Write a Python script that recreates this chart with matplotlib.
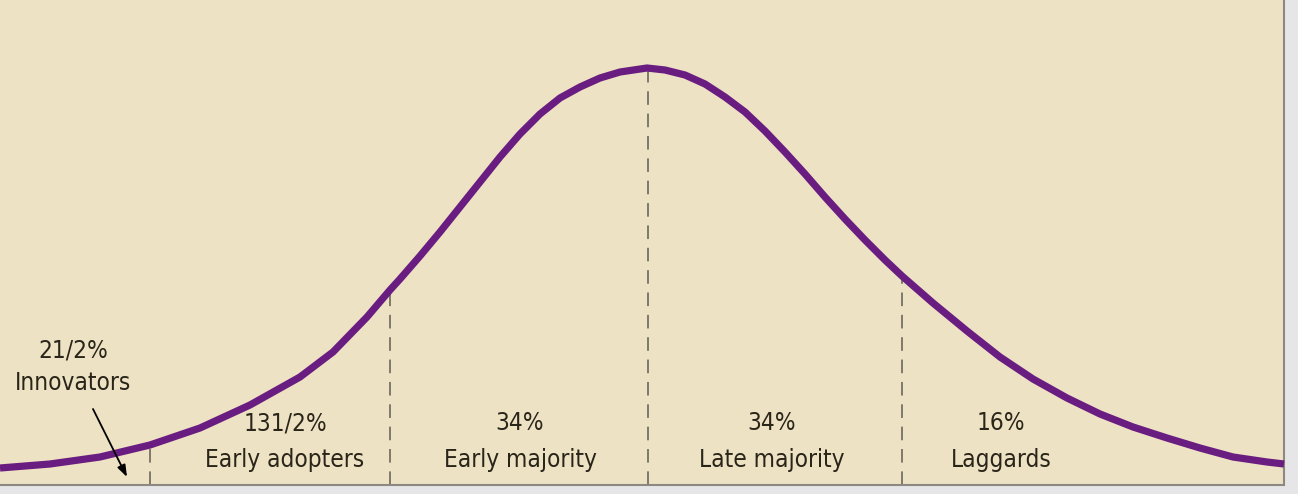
import numpy as np
import matplotlib
matplotlib.use("Agg")
import matplotlib.pyplot as plt

# Curve (x position, pixel row of the curve)
curve_x = [0, 50, 100, 150, 200, 250, 300, 333, 367, 390, 400, 420, 440, 460, 480,
           500, 520, 540, 560, 580, 600, 620, 647, 665, 685, 705, 725, 745, 765,
           785, 805, 825, 845, 865, 885, 902, 933, 967, 1000, 1033, 1067, 1100,
           1133, 1167, 1200, 1233, 1267, 1284]
curve_y = [468, 464, 457, 445, 428, 405, 377, 352, 317, 290, 279, 256, 232, 207, 182,
           157, 134, 114, 98, 87, 78, 72, 68, 70, 75, 84, 97, 112, 131,
           152, 174, 197, 219, 240, 260, 276, 303, 331, 357, 379, 398, 414,
           427, 438, 448, 457, 462, 464]
baseline = 485
curve_h = [baseline - v for v in curve_y]

# Segment boundaries
boundaries = [150, 390, 648, 902]

# Segment labels
pct_labels = ["131/2%", "34%", "34%", "16%"]
name_labels = ["Early adopters", "Early majority", "Late majority", "Laggards"]
label_x = [285, 520, 772, 1001]

innov_pct = "21/2%"
innov_name = "Innovators"

W, H = 1298, 494
fig = plt.figure(figsize=(W / 100, H / 100), dpi=100)
fig.patch.set_facecolor("#e6e6e8")
ax = fig.add_axes([0, (H - baseline) / H, 1284 / W, baseline / H])
ax.set_facecolor("#eee2c5")
ax.set_xlim(0, 1284)
ax.set_ylim(0, baseline)
for s in ["top", "left"]:
    ax.spines[s].set_visible(False)
for s in ["right", "bottom"]:
    ax.spines[s].set_color("#8c8a80")
    ax.spines[s].set_linewidth(1.5)
ax.set_xticks([])
ax.set_yticks([])

# dashed boundary lines
for bx in boundaries:
    top = np.interp(bx, curve_x, curve_h)
    ax.plot([bx, bx], [0, top], color="#7d796b", lw=1.4,
            dashes=(7, 4.5), zorder=2)

ax.plot(curve_x, curve_h, color="#6a1d80", lw=5.2, solid_capstyle="butt",
        solid_joinstyle="round", zorder=3, clip_on=False)

font = dict(family=["DejaVu Sans"], fontsize=17.5,
            color="#2a2519", stretch="condensed")

for lx, p, n in zip(label_x, pct_labels, name_labels):
    ax.text(lx, baseline - 423, p, ha="center", va="center", **font)
    ax.text(lx, baseline - 460, n, ha="center", va="center", **font)

ax.text(73, baseline - 350, innov_pct, ha="center", va="center", **font)
ax.text(73, baseline - 383, innov_name, ha="center", va="center", **font)

ax.annotate("", xy=(127, baseline - 477), xytext=(93, baseline - 409),
            arrowprops=dict(arrowstyle="-|>,head_length=0.7,head_width=0.25",
                            color="black", lw=1.3, shrinkA=0, shrinkB=0))

fig.savefig("out.png", dpi=100, facecolor=fig.get_facecolor())
